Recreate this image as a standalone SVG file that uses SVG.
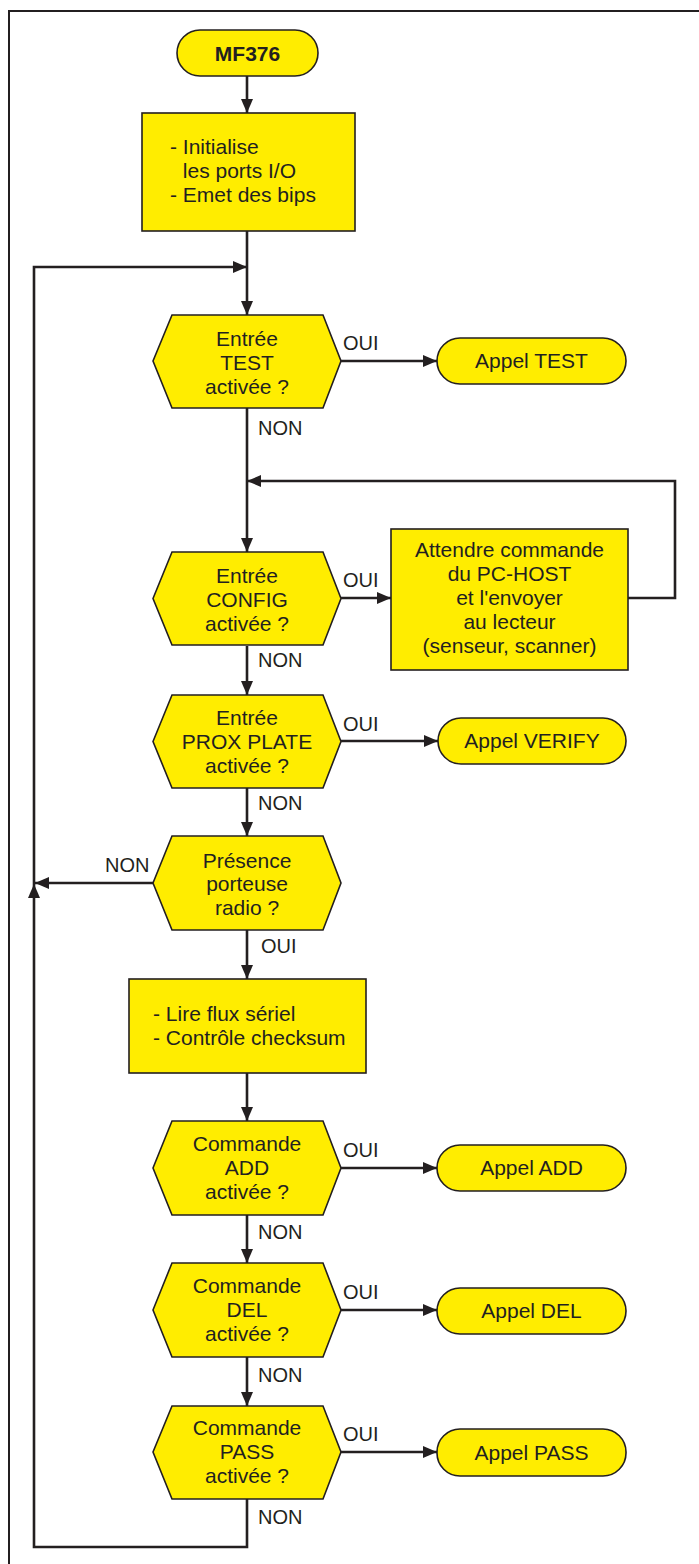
<svg xmlns="http://www.w3.org/2000/svg" width="699" height="1564" viewBox="0 0 699 1564">
<style>
.t{font-family:"Liberation Sans",Arial,Helvetica,sans-serif;font-size:21px;fill:#231F20}
.l{font-family:"Liberation Sans",Arial,Helvetica,sans-serif;font-size:20px;fill:#231F20}
.c{text-anchor:middle}
.b{font-weight:bold}
.sh{fill:#FFED00;stroke:#231F20;stroke-width:1.6}
.cn{fill:none;stroke:#231F20;stroke-width:2.6;marker-end:url(#ah)}
.cp{fill:none;stroke:#231F20;stroke-width:2.6}
</style>
<defs>
<marker id="ah" markerUnits="userSpaceOnUse" markerWidth="14" markerHeight="12" refX="14" refY="6" orient="auto"><path d="M0,0 L14,6 L0,12 z" fill="#231F20"/></marker>
</defs>
<rect x="0" y="0" width="699" height="1564" fill="#FFFFFF"/>
<rect id="frame" x="9" y="11" width="720" height="1600" fill="none" stroke="#231F20" stroke-width="2"/>

<g id="connectors">
<path class="cn" d="M247,76 V113"/>
<path class="cn" d="M247,231 V315"/>
<path class="cn" d="M341,361 H437"/>
<path class="cn" d="M247,408 V552"/>
<path class="cn" d="M341,598 H391"/>
<path class="cn" d="M628,598 H675 V481 H247"/>
<path class="cn" d="M247,646 V695"/>
<path class="cn" d="M341,741 H438"/>
<path class="cn" d="M247,788 V836"/>
<path class="cn" d="M153,883 H35"/>
<path class="cn" d="M247,930 V979"/>
<path class="cn" d="M247,1073 V1121"/>
<path class="cn" d="M341,1168 H437"/>
<path class="cn" d="M247,1215 V1263"/>
<path class="cn" d="M341,1310 H437"/>
<path class="cn" d="M247,1357 V1406"/>
<path class="cn" d="M341,1452 H437"/>
<path class="cn" d="M247,1499 V1547 H34 V884"/>
<path class="cn" d="M34,884 V267 H247"/>
<text class="l" x="343" y="350">OUI</text>
<text class="l" x="258" y="435">NON</text>
<text class="l" x="343" y="587">OUI</text>
<text class="l" x="258" y="667">NON</text>
<text class="l" x="343" y="731">OUI</text>
<text class="l" x="258" y="810">NON</text>
<text class="l" x="105" y="872">NON</text>
<text class="l" x="261" y="953">OUI</text>
<text class="l" x="343" y="1157">OUI</text>
<text class="l" x="258" y="1239">NON</text>
<text class="l" x="343" y="1299">OUI</text>
<text class="l" x="258" y="1382">NON</text>
<text class="l" x="343" y="1441">OUI</text>
<text class="l" x="258" y="1524">NON</text>
</g>

<g id="start">
<rect class="sh" x="177" y="30" width="141" height="46" rx="23"/>
<text class="t c b" x="247.5" y="61">MF376</text>
</g>

<g id="init">
<rect class="sh" x="142" y="113" width="213" height="118"/>
<text class="t" x="170" y="154">- Initialise</text>
<text class="t" x="182.8" y="178">les ports I/O</text>
<text class="t" x="170" y="202">- Emet des bips</text>
</g>

<g id="q-test">
<polygon class="sh" points="153,361 172,315 323,315 341,361 323,408 172,408"/>
<text class="t c" x="247" y="346">Entrée</text>
<text class="t c" x="247" y="370">TEST</text>
<text class="t c" x="247" y="394">activée ?</text>
</g>

<g id="appel-test">
<rect class="sh" x="437" y="338" width="189" height="46" rx="23"/>
<text class="t c" x="531.5" y="368">Appel TEST</text>
</g>

<g id="q-config">
<polygon class="sh" points="153,598.5 172,552 323,552 341,598.5 323,645 172,645"/>
<text class="t c" x="247" y="583">Entrée</text>
<text class="t c" x="247" y="607">CONFIG</text>
<text class="t c" x="247" y="631">activée ?</text>
</g>

<g id="attendre">
<rect class="sh" x="391" y="529" width="237" height="141"/>
<text class="t c" x="509.5" y="557">Attendre commande</text>
<text class="t c" x="509.5" y="581">du PC-HOST</text>
<text class="t c" x="509.5" y="605">et l'envoyer</text>
<text class="t c" x="509.5" y="629">au lecteur</text>
<text class="t c" x="509.5" y="653">(senseur, scanner)</text>
</g>

<g id="q-prox">
<polygon class="sh" points="153,741.5 172,695 323,695 341,741.5 323,788 172,788"/>
<text class="t c" x="247" y="725">Entrée</text>
<text class="t c" x="247" y="749">PROX PLATE</text>
<text class="t c" x="247" y="773">activée ?</text>
</g>

<g id="appel-verify">
<rect class="sh" x="438" y="718" width="188" height="46" rx="23"/>
<text class="t c" x="532" y="748">Appel VERIFY</text>
</g>

<g id="q-presence">
<polygon class="sh" points="153,883 172,836 323,836 341,883 323,930 172,930"/>
<text class="t c" x="247" y="868">Présence</text>
<text class="t c" x="247" y="891">porteuse</text>
<text class="t c" x="247" y="915">radio ?</text>
</g>

<g id="lire">
<rect class="sh" x="129" y="979" width="237" height="94"/>
<text class="t" x="153" y="1021">- Lire flux sériel</text>
<text class="t" x="153" y="1045">- Contrôle checksum</text>
</g>

<g id="q-add">
<polygon class="sh" points="153,1168 172,1121 323,1121 341,1168 323,1215 172,1215"/>
<text class="t c" x="247" y="1151">Commande</text>
<text class="t c" x="247" y="1175">ADD</text>
<text class="t c" x="247" y="1199">activée ?</text>
</g>

<g id="appel-add">
<rect class="sh" x="437" y="1145" width="189" height="46" rx="23"/>
<text class="t c" x="531.5" y="1175">Appel ADD</text>
</g>

<g id="q-del">
<polygon class="sh" points="153,1310 172,1263 323,1263 341,1310 323,1357 172,1357"/>
<text class="t c" x="247" y="1293">Commande</text>
<text class="t c" x="247" y="1317">DEL</text>
<text class="t c" x="247" y="1341">activée ?</text>
</g>

<g id="appel-del">
<rect class="sh" x="437" y="1288" width="189" height="46" rx="23"/>
<text class="t c" x="531.5" y="1318">Appel DEL</text>
</g>

<g id="q-pass">
<polygon class="sh" points="153,1452 172,1406 323,1406 341,1452 323,1499 172,1499"/>
<text class="t c" x="247" y="1435">Commande</text>
<text class="t c" x="247" y="1459">PASS</text>
<text class="t c" x="247" y="1483">activée ?</text>
</g>

<g id="appel-pass">
<rect class="sh" x="437" y="1429" width="189" height="47" rx="23"/>
<text class="t c" x="531.5" y="1460">Appel PASS</text>
</g>
</svg>
